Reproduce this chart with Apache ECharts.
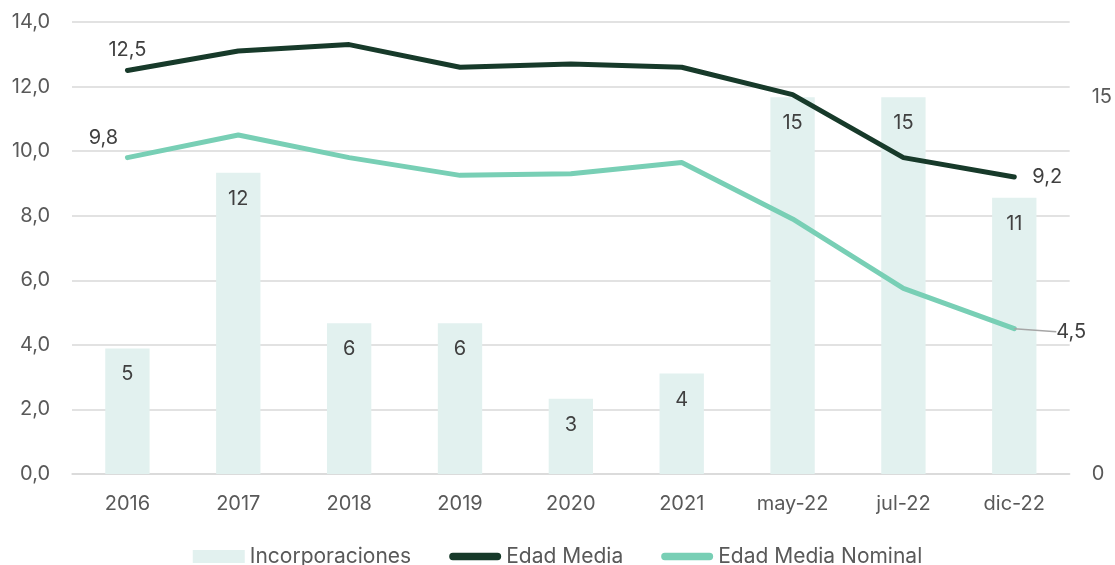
<!DOCTYPE html>
<html><head><meta charset="utf-8">
<script src="https://cdn.jsdelivr.net/npm/echarts@6/dist/echarts.min.js"></script>
<style>html,body{margin:0;padding:0;background:#fff}#c{width:1115px;height:565px}</style>
</head><body><div id="c"></div>
<script>
const categories = ['2016','2017','2018','2019','2020','2021','may-22','jul-22','dic-22'];
const incorporaciones = [5,12,6,6,3,4,15,15,11];
const edadMedia = [12.5,13.1,13.3,12.6,12.7,12.6,11.75,9.8,9.2];
const edadMediaNominal = [9.8,10.5,9.8,9.25,9.3,9.65,7.9,5.75,4.5];

const FONT = 'Inter';
const TXT = '#595959';
const LBL = '#404040';
const fmt = v => v.toFixed(1).replace('.', ',');

const chart = echarts.init(document.getElementById('c'));
const lastIdx = categories.length - 1;
const pill = 'path://M4,0 L52,0 A4,4 0 0 1 52,8 L4,8 A4,4 0 0 1 4,0 Z';

chart.setOption({
  animation: false,
  textStyle: { fontFamily: FONT },
  grid: { left: 72, right: 43, top: 22, bottom: 91, containLabel: false },
  legend: {
    top: 541, left: 'center', itemGap: 38, itemWidth: 52, itemHeight: 13,
    textStyle: { fontFamily: FONT, fontSize: 21, color: TXT },
    data: [
      { name: 'Incorporaciones', icon: 'rect' },
      { name: 'Edad Media', icon: pill },
      { name: 'Edad Media Nominal', icon: pill }
    ]
  },
  xAxis: {
    type: 'category', data: categories,
    axisLine: { show: true, lineStyle: { color: '#d9d9d9', width: 1.5 } },
    axisTick: { show: false },
    axisLabel: { color: TXT, fontSize: 20, margin: 20, fontFamily: FONT }
  },
  yAxis: [
    { type: 'value', min: 0, max: 14, interval: 2,
      axisLine: { show: false }, axisTick: { show: false },
      splitLine: { lineStyle: { color: '#d9d9d9', width: 1.5 } },
      axisLabel: { color: TXT, fontSize: 20, margin: 22, formatter: v => fmt(v), fontFamily: FONT } },
    { type: 'value', min: 0, max: 18, interval: 15,
      axisLine: { show: false }, axisTick: { show: false }, splitLine: { show: false },
      axisLabel: { color: TXT, fontSize: 20, margin: 22, showMaxLabel: false, fontFamily: FONT,
        formatter: v => (v === 0 || v === 15) ? String(v) : '' } }
  ],
  series: [
    { name: 'Incorporaciones', type: 'bar', yAxisIndex: 1, data: incorporaciones,
      barWidth: '40%', itemStyle: { color: '#e2f1ef' },
      label: { show: true, position: 'insideTop', distance: 16, color: LBL, fontSize: 20, fontFamily: FONT } },
    { name: 'Edad Media', type: 'line', yAxisIndex: 0, data: edadMedia.map((v, i) => {
        const d = { value: v };
        if (i === 0) d.label = { show: true, position: 'top', distance: 10 };
        if (i === lastIdx) d.label = { show: true, position: 'right', distance: 18 };
        return d;
      }),
      symbol: 'circle', symbolSize: 0.1, showSymbol: true,
      lineStyle: { color: '#173a2a', width: 5, cap: 'round' }, itemStyle: { color: '#173a2a' },
      label: { show: false, color: LBL, fontSize: 20, fontFamily: FONT, formatter: p => fmt(p.value) } },
    { name: 'Edad Media Nominal', type: 'line', yAxisIndex: 0, data: edadMediaNominal.map((v, i) => {
        const d = { value: v };
        if (i === 0) d.label = { show: true, position: 'top', distance: 10 };
        if (i === lastIdx) {
          d.label = { show: true, position: 'right', distance: 4 };
          d.labelLine = { show: true, lineStyle: { color: '#a6a6a6', width: 1.5 } };
        }
        return d;
      }),
      labelLayout: p => p.dataIndex === lastIdx ? { dx: 38, dy: 3 } : (p.dataIndex === 0 ? { dx: -24 } : {}),
      symbol: 'circle', symbolSize: 0.1, showSymbol: true,
      lineStyle: { color: '#78cfb5', width: 5, cap: 'round' }, itemStyle: { color: '#78cfb5' },
      label: { show: false, color: LBL, fontSize: 20, fontFamily: FONT, formatter: p => fmt(p.value) } }
  ]
});
</script></body></html>
